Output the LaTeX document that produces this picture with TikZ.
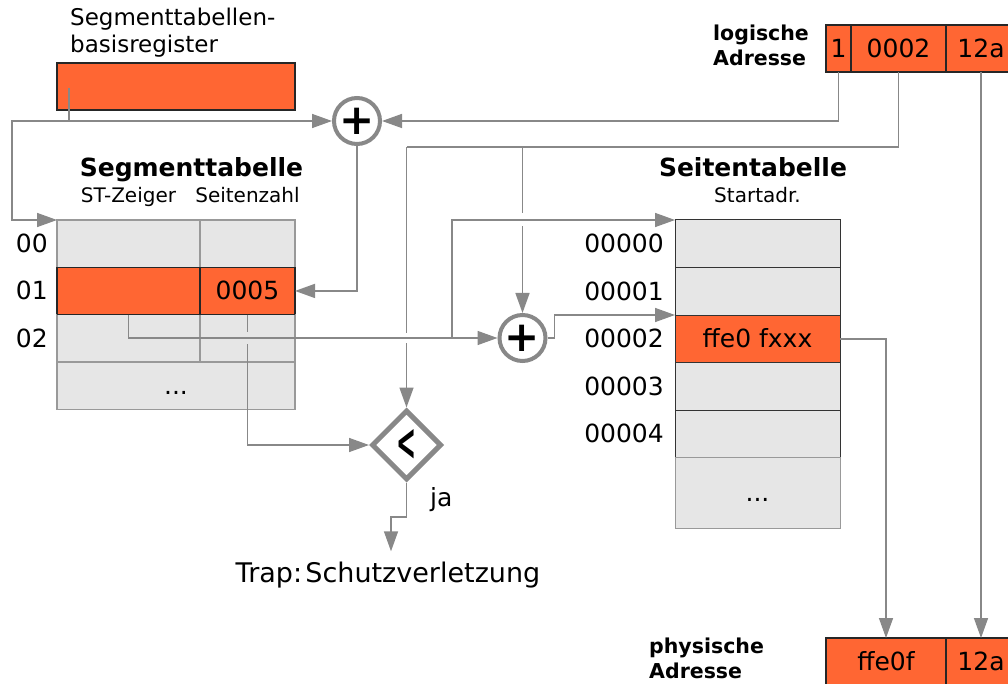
\documentclass[tikz,border=0pt]{standalone}
\usepackage{fontspec}
\setmainfont{DejaVu Sans}
\usetikzlibrary{arrows.meta,positioning,shapes.geometric}

\definecolor{regorange}{HTML}{FF6633}
\definecolor{cellgray}{HTML}{E6E6E6}
\definecolor{wiregray}{HTML}{888888}

\tikzset{
  cell/.style={draw=black!40, fill=cellgray, line width=1.2pt, inner sep=0pt, outer sep=0pt,
    minimum height=47.3pt, text height=18pt, text depth=0pt, font=\fontsize{25}{30}\selectfont},
  hotcell/.style={cell, draw=black!85, fill=regorange},
  pagecell/.style={cell, draw=black!80, line width=1pt, minimum width=165pt, minimum height=47.5pt},
  rowlabel/.style={font=\fontsize{25}{30}\selectfont, text height=18pt, text depth=0pt, inner sep=0pt},
  heading/.style={font=\fontsize{25}{30}\selectfont\bfseries, anchor=base, inner sep=0pt},
  colhead/.style={font=\fontsize{20}{24}\selectfont, anchor=base, inner sep=0pt},
  caption/.style={font=\fontsize{20.5}{25.5}\selectfont\bfseries, align=left, anchor=north west, inner sep=0pt},
  wire/.style={draw=wiregray, line width=1.5pt},
  feed/.style={wire, -{Triangle[length=20pt,width=14pt]}},
  adder/.style={circle, draw=wiregray, fill=white, line width=4pt, minimum size=46pt, inner sep=0pt,
    font=\fontsize{42}{42}\selectfont\bfseries},
  compare/.style={diamond, draw=wiregray, fill=white, line width=5pt, minimum width=70pt,
    minimum height=70pt, inner sep=0pt, aspect=1},
  gap/.style={draw=white, line width=9pt},
}

\begin{document}
\begin{tikzpicture}[x=1pt, y=-1pt]
\useasboundingbox (0,0) rectangle (1008,684);
\clip (0,0) rectangle (1008,684);

% Segmenttabellenbasisregister
\node[caption, font=\fontsize{23}{26.5}\selectfont] at (70,8) {Segmenttabellen-\\basisregister};
\node[hotcell, minimum width=238pt, minimum height=47pt, anchor=north west] (basisreg) at (57,63) {};

% Segmenttabelle
\node[heading] at (191.5,177) {Segmenttabelle};
\node[cell, minimum width=143pt, anchor=north west] (st00a) at (57,220) {};
\node[cell, minimum width=95pt, right=0pt of st00a] (st00b) {};
\node[hotcell, minimum width=143pt, below=0pt of st00a] (st01a) {};
\node[hotcell, minimum width=95pt, right=0pt of st01a] (st01b) {0005};
\node[cell, minimum width=143pt, below=0pt of st01a] (st02a) {};
\node[cell, minimum width=95pt, right=0pt of st02a] (st02b) {};
\node[cell, minimum width=238pt, below=0pt of st02a.south west, anchor=north west] (stdots) {...};
\draw[black!85, line width=1.2pt] (st01a.south west) -- (st01b.south east);
\node[colhead] at (st00a.north |- 0,203) {ST-Zeiger};
\node[colhead] at (st00b.north |- 0,203) {Seitenzahl};
\node[rowlabel, left=9pt of st00a] {00};
\node[rowlabel, left=9pt of st01a] {01};
\node[rowlabel, left=9pt of st02a] {02};

% Seitentabelle
\node[heading] at (753,177) {Seitentabelle};
\node[colhead] at (757.5,203) {Startadr.};
\node[pagecell, anchor=north west] (pt0) at (675,220) {};
\node[pagecell, below=0pt of pt0] (pt1) {};
\node[pagecell, below=0pt of pt1, fill=regorange] (pt2) {ffe0 fxxx};
\node[pagecell, below=0pt of pt2] (pt3) {};
\node[pagecell, below=0pt of pt3] (pt4) {};
\node[pagecell, below=0pt of pt4, draw=black!40, minimum height=70.5pt] (ptdots) {...};
\node[rowlabel, left=11pt of pt0] {00000};
\node[rowlabel, left=11pt of pt1] {00001};
\node[rowlabel, left=11pt of pt2] {00002};
\node[rowlabel, left=11pt of pt3] {00003};
\node[rowlabel, left=11pt of pt4] {00004};

% logische Adresse
\node[caption] at (713,24.5) {logische\\Adresse};
\node[hotcell, minimum width=25pt, minimum height=47pt, anchor=north west] (lg1) at (826,25) {1};
\node[hotcell, minimum width=95pt, minimum height=47pt, right=0pt of lg1] (lg2) {0002};
\node[hotcell, minimum width=70pt, minimum height=47pt, right=0pt of lg2] (lg3) {12a};

% physische Adresse
\node[caption] at (649,637.5) {physische\\Adresse};
\node[hotcell, minimum width=120pt, minimum height=47pt, anchor=north west] (ph1) at (826,638) {ffe0f};
\node[hotcell, minimum width=70pt, minimum height=47pt, right=0pt of ph1] (ph2) {12a};

% Addierer und Vergleich
\node[adder] (plus1) at (357,121) {+};
\node[adder] (plus2) at (522.5,338) {+};
\node[compare] (cmp) at (406.5,445) {\scalebox{0.6}[1.3]{\fontsize{40}{40}\selectfont\bfseries <}};
\node[font=\fontsize{25}{30}\selectfont, anchor=base west, inner sep=0pt] (jalabel) at (430,506) {ja};
\node[font=\fontsize{27}{32}\selectfont, anchor=base, inner sep=0pt] (trap) at (388,582) {Trap:\hspace{0.12em}Schutzverletzung};

% Basisregister + Segmentnummer
\coordinate (regtap) at (69,88);
\coordinate (regjoin) at (regtap |- plus1.west);
\draw[feed] (regtap) -- (regjoin) -| ([xshift=-45pt]st00a.north west) -- (st00a.north west);
\draw[feed] (regjoin) -- (plus1.west);
\draw[feed] (lg1.south) |- (plus1.east);
\draw[feed] (plus1.south) |- (st01b.east);

% Seitennummer
\coordinate (segsplit) at (cmp.north |- 0,147);
\coordinate (pagesplit) at (plus2.north |- 0,147);
\draw[feed] (st01b.south) |- (cmp.west);
\draw[wire] (lg2.south) |- (segsplit);
\draw[feed] (segsplit) -- (cmp.north);
\draw[feed] (pagesplit) -- (plus2.north);

% Luecken an Kreuzungen
\draw[gap, draw=cellgray] (st01b.south |- 0,332) -- (st01b.south |- 0,344);
\draw[gap] (cmp.north |- 0,333) -- (cmp.north |- 0,343);
\draw[gap] (plus2.north |- 0,213) -- (plus2.north |- 0,226);

% ST-Zeiger
\coordinate (ptbranch) at (452,338);
\draw[feed] (st01a.south) |- (plus2.west);
\draw[feed] (ptbranch) |- (pt0.north west);
\draw[feed] (plus2.east) -- ++(7,0) |- (pt2.north west);

% physische Adresse
\draw[feed] (pt2.east) -| (ph1.north);
\draw[feed] (lg3.south) -- (ph2.north);

% Trap
\coordinate (trapbend) at (cmp.south |- 0,517);
\draw[feed] (cmp.south) -- (trapbend) -| ([xshift=3pt,yshift=10pt]trap.north);

\end{tikzpicture}
\end{document}
